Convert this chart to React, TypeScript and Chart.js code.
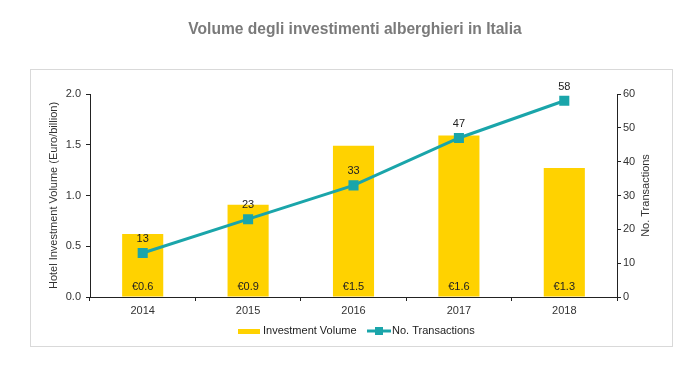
import React, { useEffect, useRef } from "react";
import { Chart, registerables } from "chart.js";

Chart.register(...registerables);

const years = ["2014", "2015", "2016", "2017", "2018"];
const investmentVolume = [0.62, 0.91, 1.49, 1.59, 1.27];
const transactions = [13, 23, 33, 47, 58];
const chartTitle = "Volume degli investimenti alberghieri in Italia";
const leftAxisTitle = "Hotel Investment Volume (Euro/billion)";
const rightAxisTitle = "No. Transactions";

const YELLOW = "#FFD200";
const TEAL = "#1AA5AA";
const FONT = "'Liberation Sans', Arial, sans-serif";

const decorPlugin = {
  id: "decor",
  beforeDraw(chart: any) {
    const { ctx } = chart;
    ctx.save();
    ctx.fillStyle = "#ffffff";
    ctx.fillRect(0, 0, chart.width, chart.height);
    ctx.strokeStyle = "#d9d9d9";
    ctx.lineWidth = 1;
    ctx.strokeRect(30.5, 69.5, 642, 277);
    ctx.fillStyle = "#7a7a7a";
    ctx.font = `bold 15.6px ${FONT}`;
    ctx.textAlign = "center";
    ctx.textBaseline = "middle";
    ctx.fillText(chartTitle, 355, 30);
    ctx.restore();
  },
  afterDatasetsDraw(chart: any) {
    const { ctx, chartArea } = chart;
    ctx.save();
    ctx.font = `11px ${FONT}`;
    ctx.textAlign = "center";
    ctx.textBaseline = "middle";
    ctx.fillStyle = "#222";
    const barMeta = chart.getDatasetMeta(0);
    barMeta.data.forEach((el: any, i: number) => {
      const v = chart.data.datasets[0].data[i] as number;
      ctx.fillText("€" + v.toFixed(1), el.x, el.base - 10);
    });
    const lineMeta = chart.getDatasetMeta(1);
    lineMeta.data.forEach((el: any, i: number) => {
      const v = chart.data.datasets[1].data[i];
      ctx.fillText(String(v), el.x, el.y - 14);
    });
    // right axis title (reads bottom to top)
    ctx.save();
    ctx.fillStyle = "#333";
    ctx.translate(646, (chartArea.top + chartArea.bottom) / 2);
    ctx.rotate(-Math.PI / 2);
    ctx.fillText(rightAxisTitle, 0, 0);
    ctx.restore();
    // legend
    const ly = 331;
    const ds0 = chart.data.datasets[0];
    const ds1 = chart.data.datasets[1];
    ctx.fillStyle = YELLOW;
    ctx.fillRect(238, ly - 2, 22, 5);
    ctx.fillStyle = "#222";
    ctx.textAlign = "left";
    ctx.fillText(ds0.label, 263, ly);
    ctx.strokeStyle = TEAL;
    ctx.lineWidth = 3;
    ctx.beginPath();
    ctx.moveTo(367, ly);
    ctx.lineTo(391, ly);
    ctx.stroke();
    ctx.fillStyle = TEAL;
    ctx.fillRect(375, ly - 4, 8, 8);
    ctx.fillStyle = "#222";
    ctx.fillText(ds1.label, 392, ly);
    ctx.restore();
  },
};

export default function App() {
  const ref = useRef<HTMLCanvasElement | null>(null);
  useEffect(() => {
    if (!ref.current) return;
    const tickFont = { family: FONT, size: 11 };
    const chart = new Chart(ref.current, {
      type: "bar",
      data: {
        labels: years,
        datasets: [
          {
            type: "bar",
            label: "Investment Volume",
            data: investmentVolume,
            backgroundColor: YELLOW,
            yAxisID: "y",
            categoryPercentage: 1,
            barPercentage: 0.39,
            order: 2,
          },
          {
            type: "line",
            label: "No. Transactions",
            data: transactions,
            borderColor: TEAL,
            backgroundColor: TEAL,
            borderWidth: 3,
            pointStyle: "rect",
            pointRadius: 5,
            pointBackgroundColor: TEAL,
            pointBorderColor: TEAL,
            yAxisID: "y1",
            order: 1,
          } as any,
        ],
      },
      options: {
        animation: false,
        responsive: false,
        maintainAspectRatio: false,
        layout: { padding: { left: 0, right: 0, top: 94, bottom: 46 } },
        plugins: {
          legend: { display: false },
          tooltip: { enabled: false },
          title: { display: false },
        },
        scales: {
          x: {
            offset: true,
            grid: {
              offset: true,
              drawOnChartArea: false,
              tickLength: 4,
              color: "#222",
            },
            border: { color: "#222", width: 1 },
            ticks: { font: tickFont, color: "#333", padding: 3 },
            afterFit: (s: any) => {
              s.height = 22;
            },
          },
          y: {
            position: "left",
            min: 0,
            max: 2,
            grid: { drawOnChartArea: false, tickLength: 4, color: "#222" },
            border: { color: "#222", width: 1 },
            ticks: {
              stepSize: 0.5,
              font: tickFont,
              color: "#333",
              padding: 5,
              callback: (v: any) => Number(v).toFixed(1),
            },
            title: {
              display: true,
              text: leftAxisTitle,
              font: tickFont,
              color: "#333",
              padding: { top: 47, bottom: 0 },
            },
            afterFit: (s: any) => {
              s.width = 90;
            },
          },
          y1: {
            position: "right",
            min: 0,
            max: 60,
            grid: { drawOnChartArea: false, tickLength: 4, color: "#222" },
            border: { color: "#222", width: 1 },
            ticks: { stepSize: 10, font: tickFont, color: "#333", padding: 2 },
            afterFit: (s: any) => {
              s.width = 79;
            },
          },
        },
      },
      plugins: [decorPlugin],
    });
    return () => chart.destroy();
  }, []);
  return (
    <div style={{ position: "fixed", left: 0, top: 0, width: 696, height: 365, background: "#fff" }}>
      <canvas ref={ref} width={696} height={365} style={{ display: "block" }} />
    </div>
  );
}
